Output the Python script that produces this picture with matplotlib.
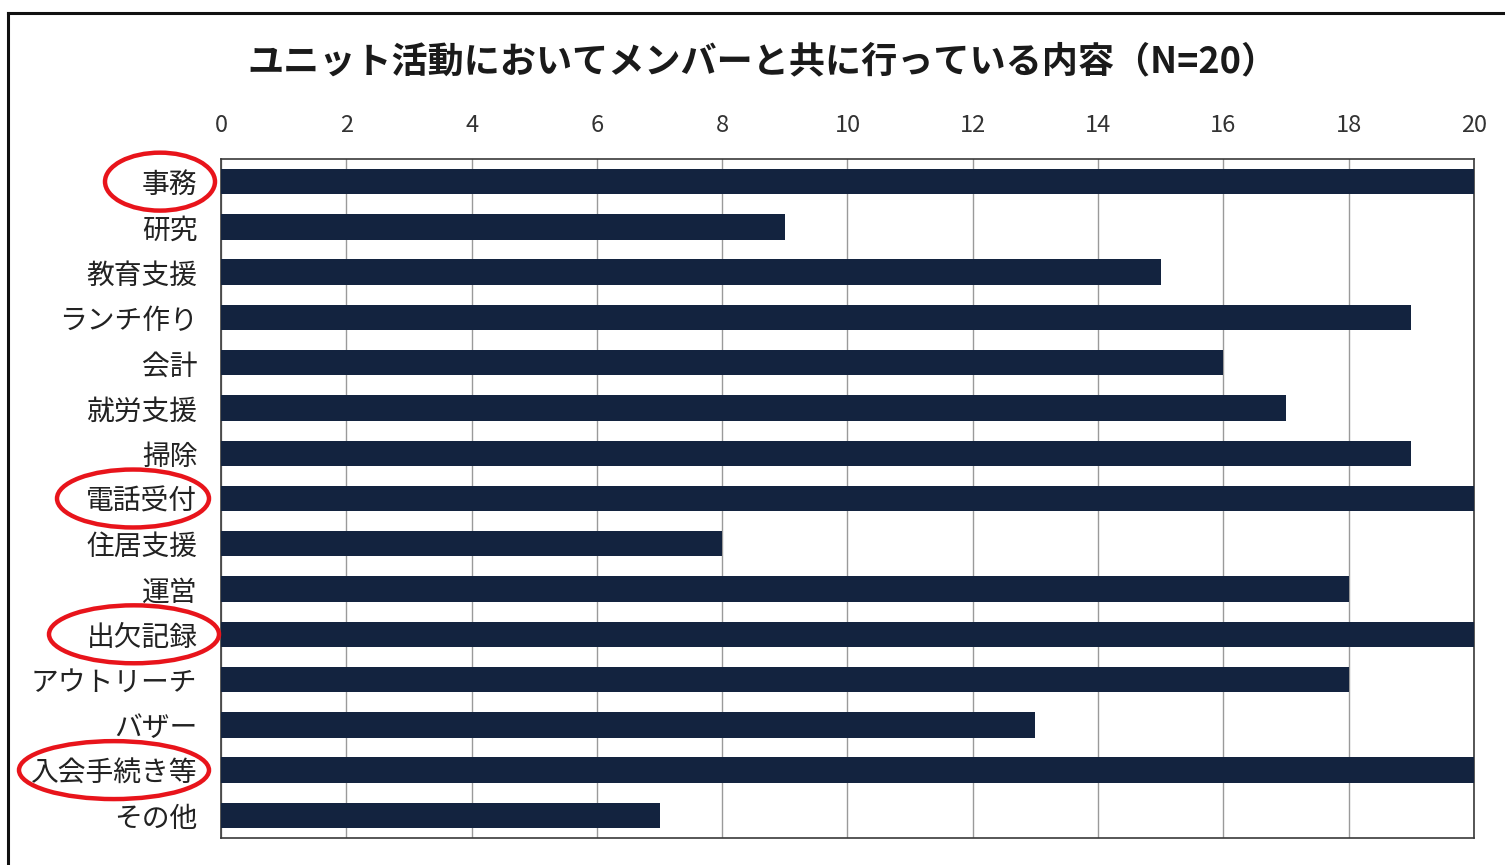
import matplotlib
matplotlib.use('Agg')
import matplotlib.pyplot as plt
from matplotlib.patches import Ellipse
from matplotlib.lines import Line2D
import matplotlib.transforms as mtransforms

plt.rcParams['font.family'] = ['Noto Sans CJK JP', 'DejaVu Sans']

categories = ['事務', '研究', '教育支援', 'ランチ作り', '会計', '就労支援', '掃除',
              '電話受付', '住居支援', '運営', '出欠記録', 'アウトリーチ', 'バザー',
              '入会手続き等', 'その他']
counts = [20, 9, 15, 19, 16, 17, 19, 20, 8, 18, 20, 18, 13, 20, 7]
highlighted = ['事務', '電話受付', '出欠記録', '入会手続き等']
title = 'ユニット活動においてメンバーと共に行っている内容（N=20）'
x_ticks = list(range(0, 21, 2))

W, H = 1505, 865
fig = plt.figure(figsize=(W / 100, H / 100), dpi=100)
fig.patch.set_facecolor('white')

# plot area in pixel terms
left, right, top, bottom = 221, 1474, 159, 838
ax = fig.add_axes([left / W, 1 - bottom / H, (right - left) / W, (bottom - top) / H])

y = list(range(len(categories)))
ax.barh(y, counts, height=0.56, color='#13233f', zorder=3)
ax.set_ylim(len(categories) - 0.5, -0.5)
ax.set_xlim(0, 20)
ax.set_xticks(x_ticks)
ax.set_yticks(y)
ax.set_yticklabels(categories, fontsize=20, color='#222222')
ax.xaxis.tick_top()
ax.tick_params(axis='x', length=0, pad=16, labelsize=17, labelcolor='#333333')
ax.tick_params(axis='y', length=0, pad=17)
ax.grid(axis='x', color='#9a9a9a', linewidth=1.0, zorder=0)
for s in ax.spines.values():
    s.set_color('#3a3a3a')
    s.set_linewidth(1.2)

fig.text(762 / W, 1 - 62 / H, title, ha='center', va='center',
         fontsize=26, fontweight='bold', color='#1a1a1a')

# red rings around the highlighted labels (x in axes fraction, y in data)
trans = mtransforms.blended_transform_factory(ax.transAxes, ax.transData)
ring_geom = {
    '事務': (160, 110),
    '電話受付': (133, 152),
    '出欠記録': (134, 170),
    '入会手続き等': (114, 190),
}
for name in highlighted:
    cx, w = ring_geom[name]
    idx = categories.index(name)
    e = Ellipse(((cx - left) / (right - left), idx), w / (right - left), 1.28,
                transform=trans, fill=False, edgecolor='#e8141b', linewidth=3.2,
                clip_on=False, zorder=5)
    ax.add_patch(e)

# outer frame
fig.add_artist(Line2D([8 / W, 1.0], [1 - 13 / H, 1 - 13 / H], transform=fig.transFigure,
                      color='#111111', linewidth=2.2))
fig.add_artist(Line2D([8 / W, 8 / W], [1 - 13 / H, 0.0], transform=fig.transFigure,
                      color='#111111', linewidth=2.2))

fig.savefig('out.png', dpi=100)
